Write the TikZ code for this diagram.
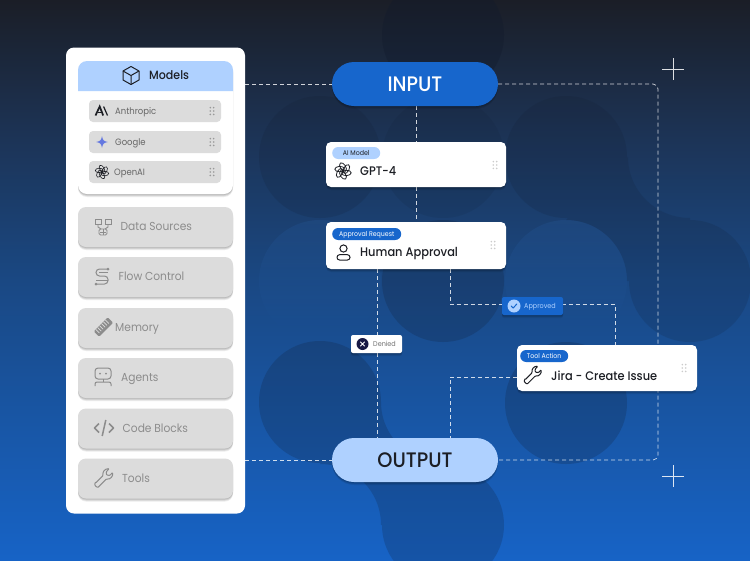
\documentclass[tikz,border=0pt]{standalone}
\usepackage{fontspec}
\setmainfont[FakeStretch=.92]{Poppins}
\newfontfamily\medfont[FakeStretch=.92]{Poppins Medium}
\usetikzlibrary{shadows,backgrounds,fadings}

\definecolor{bgtop}{HTML}{1B1E27}
\definecolor{bgupper}{HTML}{1C3457}
\definecolor{bgmid}{HTML}{1A4883}
\definecolor{bglow}{HTML}{1856A5}
\definecolor{bgbottom}{HTML}{1763C6}
\definecolor{pillblue}{HTML}{1766CC}
\definecolor{paleblue}{HTML}{AFD1FF}
\definecolor{btngrey}{HTML}{DCDCDC}
\definecolor{btntext}{HTML}{8C8C8C}
\definecolor{inkdark}{HTML}{1C1E24}
\definecolor{blobdark}{HTML}{111A2C}
\definecolor{bloblight}{HTML}{2C68B4}
\definecolor{sparkblue}{HTML}{6478E0}

% the box of a shading is mapped to its middle 50bp
\pgfdeclareverticalshading{bgshade}{100bp}{color(0bp)=(bgbottom); color(25bp)=(bgbottom); color(37.5bp)=(bglow); color(50bp)=(bgmid); color(62.5bp)=(bgupper); color(75bp)=(bgtop); color(100bp)=(bgtop)}

\tikzset{
    softshadow/.style={
        drop shadow={shadow xshift=0pt,shadow yshift=-1pt,opacity=.1,fill=black},
        drop shadow={shadow xshift=0pt,shadow yshift=-2pt,opacity=.1,fill=black},
        drop shadow={shadow xshift=0pt,shadow yshift=-3pt,opacity=.08,fill=black}},
    panelbox/.style={fill=white,rounded corners=8pt,minimum width=179pt,minimum height=466pt,inner sep=0pt},
    sidebtn/.style={fill=btngrey,rounded corners=8pt,minimum width=155pt,minimum height=40pt,inner sep=0pt,softshadow},
    sidetext/.style={anchor=west,inner sep=0pt,text height=8pt,text depth=0pt,text=btntext,font=\fontsize{11.6}{13}\selectfont},
    modelrow/.style={fill=btngrey,rounded corners=4pt,minimum width=132pt,minimum height=22pt,inner sep=0pt},
    rowtext/.style={anchor=west,inner sep=0pt,text height=6.5pt,text depth=0pt,text=black!60,font=\fontsize{9.2}{11}\selectfont},
    pillbox/.style={rounded corners=22pt,minimum width=166pt,minimum height=44pt,inner sep=0pt,text height=15pt,text depth=0pt,softshadow,font=\medfont\fontsize{21}{23}\selectfont},
    stepcard/.style={fill=white,rounded corners=5pt,minimum width=180pt,inner sep=0pt,softshadow},
    tagbox/.style={anchor=west,rounded corners=6pt,minimum height=12pt,inner xsep=0pt,inner ysep=0pt,text height=4.7pt,text depth=0pt,font=\fontsize{6.8}{8}\selectfont},
    cardtitle/.style={anchor=west,inner sep=0pt,text height=8.8pt,text depth=0pt,text=inkdark,font=\medfont\fontsize{12.4}{14}\selectfont},
    flagbox/.style={rounded corners=2pt,minimum height=18pt,inner sep=0pt,softshadow},
    flagtext/.style={anchor=west,inner sep=0pt,text height=5pt,text depth=0pt,font=\fontsize{7}{9}\selectfont},
    flowline/.style={draw=white,opacity=.8,line width=.7pt,dash pattern=on 4pt off 3pt},
    blob/.style={fill=blobdark,opacity=.2},
    lightblob/.style={fill=bloblight,opacity=.18,path fading=south},
    pics/griplet/.style={code={
        \foreach \gx in {-1.7,1.7}
            \foreach \gy in {-3.4,0,3.4}
                \fill[#1] (\gx,\gy) circle[radius=.9];
    }},
    pics/iconcube/.style={code={
        \draw[line width=1pt,line join=round] (0,-9) -- (8,-4.5) -- (8,4.5) -- (0,9) -- (-8,4.5) -- (-8,-4.5) -- cycle;
        \draw[line width=1pt,line join=round] (-8,-4.5) -- (0,0) -- (8,-4.5) (0,0) -- (0,9);
    }},
    pics/iconopenai/.style={code={
        \foreach \ang in {0,60,...,300}
            \draw[rotate=\ang,line width=#1] (0,-3.9) ellipse[x radius=2.7,y radius=4.8,rotate=32];
    }},
    pics/iconanthropic/.style={code={
        \draw[line width=1.7pt] (-6.5,4.5) -- (-2.3,-4.5) -- (1.2,4.5);
        \draw[line width=1pt] (-4,1.8) -- (0,1.8);
        \draw[line width=1.2pt] (1.6,-4.5) -- (5.5,4.5);
    }},
    pics/iconspark/.style={code={
        \fill (0,-6) .. controls (.8,-1.6) and (1.6,-.8) .. (6,0) .. controls (1.6,.8) and (.8,1.6) .. (0,6)
            .. controls (-.8,1.6) and (-1.6,.8) .. (-6,0) .. controls (-1.6,-.8) and (-.8,-1.6) .. (0,-6) -- cycle;
    }},
    pics/iconsources/.style={code={
        \draw[line width=.9pt] (-8,-8) rectangle (-2,-3) (2,-8) rectangle (8,-3);
        \draw[line width=.9pt] (-5,-3) -- (-5,0) -- (-2,2) (5,-3) -- (5,0) -- (2,2);
        \draw[line width=.9pt,rounded corners=1.5pt] (-4,2) rectangle (4,8);
        \draw[line width=.7pt] (-3,5) -- (3,5) (0,2) -- (0,8);
    }},
    pics/iconflow/.style={code={
        \draw[line width=1pt,rounded corners=3.5pt] (6,-8) -- (-6,-8) -- (-6,-1) -- (6,-1) -- (6,7) -- (-6,7);
        \draw[line width=1pt,rounded corners=2.5pt] (6,-4.5) -- (-3,-4.5) (6,3) -- (-6,3);
        \fill (-6,7) circle[radius=1.5] (6,-8) circle[radius=1.5];
    }},
    pics/iconmemory/.style={code={
        \fill[rotate=45,rounded corners=1pt] (-11,-4.2) rectangle (11,4.2);
        \foreach \st in {-8,-5,...,8}
            \draw[rotate=45,btngrey,line width=.7pt] (\st,-4.2) -- (\st,1.5);
    }},
    pics/iconagent/.style={code={
        \draw[line width=1pt,rounded corners=3pt] (-8,-9) rectangle (8,2);
        \fill (-3,-3.5) circle[radius=1] (3,-3.5) circle[radius=1];
        \draw[line width=1pt] (0,2) -- (0,5);
        \draw[line width=1pt,rounded corners=2pt] (-8,9) -- (-8,5) -- (8,5) -- (8,9);
    }},
    pics/iconcode/.style={code={
        \draw[line width=1.5pt,line join=round] (-5,-4.5) -- (-9.5,0) -- (-5,4.5) (5,-4.5) -- (9.5,0) -- (5,4.5);
        \draw[line width=1.5pt] (1.8,-8) -- (-1.8,8);
    }},
    pics/iconwrench/.style={code={
        \draw[line width=1pt,line join=round,rounded corners=.8pt] (-10,6) -- (-1,-3)
            .. controls (-2,-7) and (1,-11) .. (6,-11) -- (2.5,-7) -- (3,-3.5) -- (7,-3) -- (10,-6.5)
            .. controls (11,-2) and (7,2) .. (3,1) -- (-6,10) .. controls (-8,12) and (-12,8) .. (-10,6) -- cycle;
    }},
    pics/iconperson/.style={code={
        \draw[line width=1pt] (0,-4) circle[radius=3.6];
        \draw[line width=1pt,rounded corners=2.6pt] (-6.5,7.5) rectangle (6.5,2.2);
    }},
    pics/icontick/.style={code={
        \draw[line width=1pt,line cap=round,line join=round] (-2.8,0) -- (-.8,2) -- (2.8,-2);
    }},
    pics/iconcross/.style={code={
        \draw[line width=.9pt,line cap=round] (-2,-2) -- (2,2) (-2,2) -- (2,-2);
    }}
}

\begin{document}
\begin{tikzpicture}[x=1pt,y=-1pt]
    \useasboundingbox (0,0) rectangle (750,560);

    % background and blobs
    \begin{scope}[on background layer]
        \shade[shading=bgshade] (0,0) rectangle (750,560);
        \fill[lightblob] (320,281) circle[radius=61];
        \fill[lightblob] (566,281) circle[radius=61];
        \fill[blob,opacity=.35] (443,35) circle[radius=61];
        \fill[blob,opacity=.1] (443,157) circle[radius=61];
        \fill[blob,opacity=.15] (320,157) circle[radius=61];
        \fill[blob,opacity=.15] (566,157) circle[radius=61]
            (628,157) .. controls (628,191) and (656,218) .. (690,218) -- (690,281)
            -- (627,281) .. controls (627,247) and (600,220) .. (566,220) -- cycle
            (690,281) circle[radius=61];
        \fill[blob] (443,281) circle[radius=61];
        \fill[blob] (566,403) circle[radius=61];
        \fill[blob] (320,402) circle[radius=61]
            (381,402) .. controls (381,436) and (409,463) .. (443,463) -- (443,525)
            -- (381,525) .. controls (381,491) and (354,464) .. (320,464) -- cycle
            (443,525) circle[radius=61];
    \end{scope}

    % crosses
    \draw[white,opacity=.85,line width=.7pt] (662,69) -- (684,69) (673,58) -- (673,80);
    \draw[white,opacity=.85,line width=.7pt] (662,476) -- (684,476) (673,465) -- (673,487);

    % left panel
    \node[panelbox] (panel) at (155.5,280.5) {};
    \node[fill=white,rounded corners=9pt,minimum width=155pt,minimum height=133pt,inner sep=0pt,softshadow] (modelscard) at (155.5,127.5) {};
    \fill[paleblue] (78,91) [rounded corners=9pt] -- (78,61) -- (233,61) [sharp corners] -- (233,91) -- cycle;
    \pic[color=inkdark] at (131,75.5) {iconcube};
    \node[anchor=west,inner sep=0pt,text height=8pt,text depth=0pt,text=inkdark,font=\medfont\fontsize{12}{13}\selectfont] (modelstext) at (149,75.5) {Models};

    \node[modelrow] (anthropic) at (155,111) {};
    \pic[color=inkdark] at (102,111) {iconanthropic};
    \node[rowtext] (anthropictext) at (115,111) {Anthropic};
    \pic at (212,111) {griplet=black!40};
    \node[modelrow] (google) at (155,142) {};
    \pic[color=sparkblue] at (102,142) {iconspark};
    \node[rowtext] (googletext) at (115,142) {Google};
    \pic at (212,142) {griplet=black!40};
    \node[modelrow] (openai) at (155,172) {};
    \pic[color=inkdark,scale=.82] at (102,172) {iconopenai=.6pt};
    \node[rowtext] (openaitext) at (114,172) {OpenAI};
    \pic at (212,172) {griplet=black!40};

    \node[sidebtn] (datasrc) at (155.5,227) {};
    \pic[color=btntext] at (103,227) {iconsources};
    \node[sidetext] (datasrctext) at (120.5,226) {Data Sources};
    \node[sidebtn] (flowctl) at (155.5,277) {};
    \pic[color=btntext] at (102,277) {iconflow};
    \node[sidetext] (flowctltext) at (118.5,276) {Flow Control};
    \node[sidebtn] (memory) at (155.5,328) {};
    \pic[color=btntext,scale=.9] at (103.5,327) {iconmemory};
    \node[sidetext] (memorytext) at (115,327) {Memory};
    \node[sidebtn] (agents) at (155.5,378) {};
    \pic[color=btntext] at (103,377) {iconagent};
    \node[sidetext] (agentstext) at (121,377) {Agents};
    \node[sidebtn] (codeblk) at (155.5,428.5) {};
    \pic[color=btntext] at (104,428) {iconcode};
    \node[sidetext] (codeblktext) at (122.5,428) {Code Blocks};
    \node[sidebtn] (tools) at (155.5,478.5) {};
    \pic[color=btntext,scale=.85] at (104,478) {iconwrench};
    \node[sidetext] (toolstext) at (122,478) {Tools};

    % pills
    \node[pillbox,fill=pillblue,text=white] (inputpill) at (415,84) {INPUT};
    \node[pillbox,fill=paleblue,text=inkdark] (outputpill) at (415,460) {OUTPUT};

    % step cards
    \node[stepcard,minimum height=45pt] (gptcard) at (416,164.5) {};
    \node[tagbox,fill=paleblue,text=inkdark,minimum width=48pt] (gpttag) at (332,153) {AI Model};
    \pic[color=inkdark] at (343,171) {iconopenai=.8pt};
    \node[cardtitle] (gpttitle) at (360,171) {GPT-4};
    \pic at (495,165) {griplet=black!20};

    \node[stepcard,minimum height=47pt] (humancard) at (416,245.5) {};
    \node[tagbox,fill=pillblue,text=white,minimum width=69pt] (humantag) at (332,234) {Approval Request};
    \pic[color=inkdark] at (343.5,252.5) {iconperson};
    \node[cardtitle] (humantitle) at (360,252) {Human Approval};
    \pic at (493,245) {griplet=black!20};

    \node[stepcard,minimum height=46pt] (jiracard) at (607,368) {};
    \node[tagbox,fill=pillblue,text=white,minimum width=48pt] (jiratag) at (520,356) {Tool Action};
    \pic[color=inkdark,scale=.8] at (533,375) {iconwrench};
    \node[cardtitle] (jiratitle) at (551,376) {Jira - Create Issue};
    \pic at (684,368) {griplet=black!20};

    % decision flags
    \node[flagbox,fill=pillblue,minimum width=61pt] (approved) at (532.5,306) {};
    \fill[paleblue] (514,306) circle[radius=6.5];
    \pic[color=pillblue] at (514,306) {icontick};
    \node[flagtext,text=paleblue] (approvedtext) at (524,306) {Approved};
    \node[flagbox,fill=white,minimum width=51pt] (denied) at (376.5,344) {};
    \fill[inkdark!85!blue] (362.5,344) circle[radius=6];
    \pic[color=white] at (362.5,344) {iconcross};
    \node[flagtext,text=black!55] (deniedtext) at (373,344) {Denied};

    % connectors
    \coordinate (cornertop) at (658,84);
    \coordinate (cornerlow) at (658,460);
    \coordinate (splitleft) at (377,269);
    \coordinate (splitright) at (450,269);
    \coordinate (elbowapp) at (450,304.5);
    \coordinate (elbowjira) at (615,304.5);
    \coordinate (jiratop) at (615,345);
    \coordinate (jiraleft) at (517,377);
    \coordinate (elbowout) at (450,377);
    \begin{scope}[on background layer]
        \draw[flowline] (panel.east |- inputpill) -- (inputpill.west);
        \draw[flowline] (panel.east |- outputpill) -- (outputpill.west);
        \draw[flowline,rounded corners=5pt] (inputpill.east) -- (cornertop) -- (cornerlow) -- (outputpill.east);
        \draw[flowline] (gptcard.north |- inputpill.south) -- (gptcard.north);
        \draw[flowline] (gptcard.south) -- (humancard.north);
        \draw[flowline] (splitleft) -- (splitleft |- outputpill.north);
        \draw[flowline] (splitright) -- (elbowapp) -- (elbowjira) -- (jiratop);
        \draw[flowline] (jiraleft) -- (elbowout) -- (elbowout |- outputpill.north);
    \end{scope}
\end{tikzpicture}
\end{document}
